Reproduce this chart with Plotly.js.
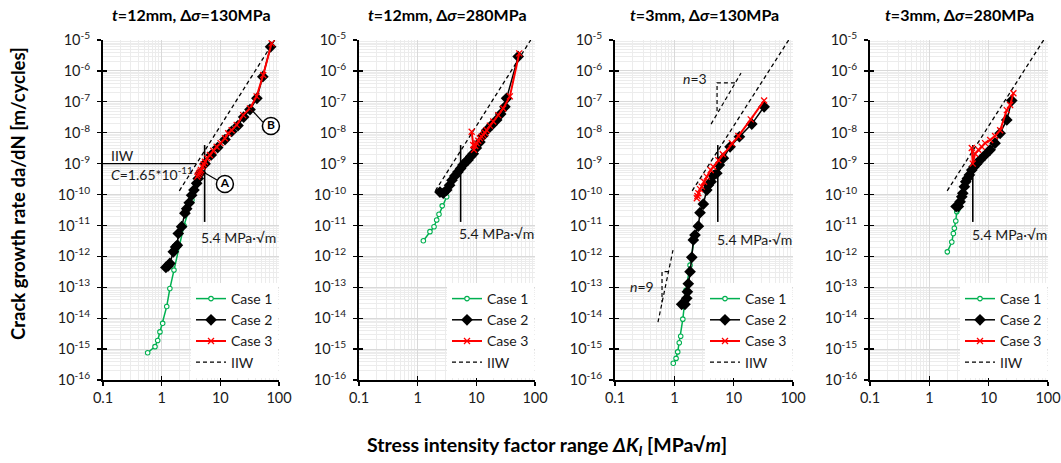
<!DOCTYPE html>
<html><head><meta charset="utf-8">
<script src="https://cdn.plot.ly/plotly-3.0.1.min.js"></script>
<style>html,body{margin:0;padding:0;background:#fff}#chart{width:1061px;height:463px}</style>
</head><body><div id="chart"></div>
<script>
// ---------------- DATA ----------------
const panelTitles = [
  '<i>t</i>=12mm, Δ<i>σ</i>=130MPa',
  '<i>t</i>=12mm, Δ<i>σ</i>=280MPa',
  '<i>t</i>=3mm, Δ<i>σ</i>=130MPa',
  '<i>t</i>=3mm, Δ<i>σ</i>=280MPa'
];
const seriesNames = ['Case 1', 'Case 2', 'Case 3', 'IIW'];
const xTickVals = [0.1, 1, 10, 100];
const xTickText = ['0.1', '1', '10', '100'];
const yTickExp = [-16, -15, -14, -13, -12, -11, -10, -9, -8, -7, -6, -5];

// Panel 1: t=12mm, 130MPa
const p1_case1_K    = [0.577, 0.77, 0.855, 0.935, 1.04, 1.22, 1.38, 1.62, 1.97, 2.4, 3.28];
const p1_case1_rate = [7.6e-16, 1.2e-15, 1.9e-15, 3.6e-15, 6.8e-15, 2.4e-14, 9.1e-14, 3.6e-13, 2.3e-12, 1.0e-11, 6.6e-11];
const p1_case2_K    = [1.18, 1.29, 1.38, 1.58, 1.73, 1.85, 1.92, 2.19, 2.49, 2.67, 2.95, 3.24, 3.55, 3.95, 4.2, 4.6, 5.5, 7.0, 9.0, 12.0, 15.6, 20, 25, 32, 42, 53, 72];
const p1_case2_rate = [4.4e-13, 4.9e-13, 5.9e-13, 1.4e-12, 2.0e-12, 2.3e-12, 5.5e-12, 9.1e-12, 2.5e-11, 3.5e-11, 5.4e-11, 9.5e-11, 1.4e-10, 2.3e-10, 3.3e-10, 5e-10, 1e-9, 1.9e-9, 3.3e-9, 6e-9, 1.1e-8, 1.7e-8, 3.2e-8, 5.6e-8, 1.3e-7, 6.5e-7, 6e-6];
const p1_case3_K    = [4.04, 4.2, 4.37, 4.52, 4.67, 4.99, 5.2, 5.47, 5.98, 6.65, 7.57, 8.65, 10.1, 11.97, 13.6, 15.6, 19.0, 24.5, 31.9, 41.5, 53.8, 74.8];
const p1_case3_rate = [3.8e-10, 4.3e-10, 4.9e-10, 5.5e-10, 6.2e-10, 7.9e-10, 9.5e-10, 1.15e-9, 1.5e-9, 1.9e-9, 2.6e-9, 3.5e-9, 4.6e-9, 6.6e-9, 9.6e-9, 1.2e-8, 1.8e-8, 3.7e-8, 6.1e-8, 1.5e-7, 7.4e-7, 7.8e-6];

// Panel 2: t=12mm, 280MPa
const p2_case1_K    = [1.25, 1.62, 1.90, 2.11, 2.31, 2.62, 3.12];
const p2_case1_rate = [3.2e-12, 6.3e-12, 9.1e-12, 1.5e-11, 2.3e-11, 4.3e-11, 8.5e-11];
const p2_case2_K    = [2.40, 2.73, 3.12, 3.5, 3.84, 4.3, 4.86, 5.4, 5.91, 6.5, 7.2, 8.0, 8.85, 10.0, 11.5, 13.0, 15.0, 18.5, 22.2, 26.0, 30.7, 32.8, 51.7];
const p2_case2_rate = [1.2e-10, 1.1e-10, 1.4e-10, 2.0e-10, 2.9e-10, 4.0e-10, 5.4e-10, 7.0e-10, 9e-10, 1.1e-9, 1.3e-9, 1.7e-9, 2.1e-9, 3.2e-9, 5e-9, 8e-9, 1.2e-8, 1.8e-8, 2.6e-8, 4e-8, 6.9e-8, 1.3e-7, 2.9e-6];
const p2_case3_K    = [8.32, 8.85, 9.1, 9.6, 10.1, 10.8, 11.5, 12.3, 13.1, 14.0, 15.0, 17.0, 19.4, 23.6, 28.7, 37.3, 53.8];
const p2_case3_rate = [1.07e-8, 4e-9, 2.8e-9, 3.7e-9, 4.6e-9, 5.5e-9, 6.6e-9, 7.5e-9, 8.5e-9, 1.0e-8, 1.2e-8, 1.7e-8, 2.3e-8, 3.7e-8, 6.1e-8, 1.5e-7, 3.7e-6];

// Panel 3: t=3mm, 130MPa
const p3_case1_K    = [0.96, 1.07, 1.14, 1.21, 1.28, 1.39, 1.57, 1.84, 2.15];
const p3_case1_rate = [3.5e-16, 5e-16, 8.1e-16, 1.6e-15, 2.6e-15, 9.3e-15, 8e-14, 5.2e-13, 3.4e-12];
const p3_case2_K    = [1.51, 1.33, 1.62, 1.66, 1.72, 1.84, 1.97, 2.09, 2.23, 2.54, 2.71, 3.08, 3.52, 3.74, 4.16, 4.55, 5.19, 5.74, 6.7, 8.7, 12.5, 20.2, 32.6];
const p3_case2_rate = [2.8e-14, 2.8e-14, 4.4e-14, 7.1e-14, 1.3e-13, 3.2e-13, 9.3e-13, 3.4e-12, 4.9e-12, 9.5e-12, 2.6e-11, 4.9e-11, 1.4e-10, 2e-10, 2.6e-10, 4.1e-10, 4.9e-10, 9e-10, 1.5e-9, 3.5e-9, 7.4e-9, 1.9e-8, 6.9e-8];
const p3_case3_K    = [2.39, 2.45, 2.54, 2.71, 2.90, 3.17, 3.52, 4.11, 4.55, 5.52, 6.55, 9.29, 12.0, 19.4, 32.6];
const p3_case3_rate = [7.6e-11, 9e-11, 1.1e-10, 1.5e-10, 1.8e-10, 2.6e-10, 3.8e-10, 6.2e-10, 7.9e-10, 1.3e-9, 2e-9, 4.6e-9, 7.8e-9, 2.7e-8, 1.1e-7];

// Panel 4: t=3mm, 280MPa
const p4_case1_K    = [2.01, 2.39, 2.54, 2.64, 2.79, 2.90, 3.01];
const p4_case1_rate = [1.4e-12, 2.9e-12, 5.5e-12, 8.1e-12, 1.4e-11, 2.8e-11, 3.2e-11];
const p4_case2_K    = [2.82, 3.08, 3.30, 3.52, 3.66, 3.89, 4.11, 4.37, 4.73, 5.19, 5.67, 6.30, 7.16, 8.7, 10.6, 12.8, 15.6, 20.2, 24.5];
const p4_case2_rate = [4.1e-11, 4.1e-11, 5.9e-11, 8.5e-11, 1.1e-10, 1.8e-10, 2.6e-10, 3.3e-10, 4.3e-10, 6.2e-10, 7.9e-10, 1e-9, 1.3e-9, 1.9e-9, 2.8e-9, 4.6e-9, 9.6e-9, 2.6e-8, 1.1e-7];
const p4_case3_K    = [5.19, 5.39, 5.9, 6.7, 7.65, 8.7, 10.6, 12.8, 15.6, 20.2, 23.0, 26.1];
const p4_case3_rate = [3.2e-9, 1e-9, 2.1e-9, 2.8e-9, 3.5e-9, 4.6e-9, 5.8e-9, 7.8e-9, 1.2e-8, 5.4e-8, 7.9e-8, 1.9e-7];

// IIW design line (C = 1.65e-11, m = 3), read end points
const iiw_K    = [2.0, 84.6];
const iiw_rate = [1.32e-10, 1e-5];
// 5.4 MPa·√m marker line
const thr_K    = [5.4, 5.4];
const thr_rate = [4e-9, 1.3e-11];
// Panel 1 notes
const iiwNote_K = [0.1, 3.9], iiwNote_rate = [1e-9, 1e-9];
const leadA_K = [8.75, 5.47], leadA_rate = [2.95e-10, 5e-10];
const leadB_K = [53.2, 31.9], leadB_rate = [2.2e-8, 6.3e-8];
const circ_K = [11.97, 72.8], circ_rate = [2.2e-10, 1.66e-8], circ_text = ['A', 'B'];
// Panel 3 slope triangles
const n3_K = [4.16, 13.3], n3_rate = [1.9e-8, 8.5e-7];
const n3tri_K = [10.5, 5.25, 5.25], n3tri_rate = [4.1e-7, 4.1e-7, 4.3e-8];
const n9_K = [0.53, 0.95], n9_rate = [7.4e-15, 1.6e-12];
const n9tri_K = [0.80, 0.62, 0.62], n9tri_rate = [3.2e-13, 3.2e-13, 3.2e-14];

// ---------------- BUILD ----------------
const W = 1061, H = 463;
const xPix = [[103, 279], [359, 535], [615, 793], [870, 1048]];
const yTopPix = 40, yBotPix = 380;
const FONT = 'Lato, "Open Sans", sans-serif';
const TXT = '#1a1a1a';
const GREEN = '#00b050', RED = '#ff0000';
const DASH = '4px,3px';

const panels = [
  [p1_case1_K, p1_case1_rate, p1_case2_K, p1_case2_rate, p1_case3_K, p1_case3_rate],
  [p2_case1_K, p2_case1_rate, p2_case2_K, p2_case2_rate, p2_case3_K, p2_case3_rate],
  [p3_case1_K, p3_case1_rate, p3_case2_K, p3_case2_rate, p3_case3_K, p3_case3_rate],
  [p4_case1_K, p4_case1_rate, p4_case2_K, p4_case2_rate, p4_case3_K, p4_case3_rate]
];

const xMinor = [], yMinor = [];
[-1, 0, 1].forEach(e => { for (let m = 2; m <= 9; m++) xMinor.push(m * Math.pow(10, e)); });
for (let e = -16; e <= -6; e++) for (let m = 2; m <= 9; m++) yMinor.push(m * Math.pow(10, e));
const yTickVals = yTickExp.map(e => Math.pow(10, e));
const yTickText = yTickExp.map(e => '10<sup>' + e + '</sup>');

const id = (p, i) => p + (i === 0 ? '' : (i + 1));
const traces = [];
const layout = {
  width: W, height: H, margin: {l: 0, r: 0, t: 0, b: 0},
  paper_bgcolor: '#fff', plot_bgcolor: '#fff',
  font: {family: FONT, color: TXT, size: 14},
  annotations: [], shapes: []
};

function lineTrace(i, x, y, extra) {
  return Object.assign({x: x, y: y, xaxis: id('x', i), yaxis: id('y', i), mode: 'lines',
    line: {color: '#000', width: 1.5}, showlegend: false, hoverinfo: 'skip'}, extra || {});
}

for (let i = 0; i < 4; i++) {
  const xa = id('x', i), ya = id('y', i);
  const leg = i === 0 ? 'legend' : 'legend' + (i + 1);
  const d = panels[i];
  const dom = [xPix[i][0] / W, xPix[i][1] / W];
  const ydom = [1 - yBotPix / H, 1 - yTopPix / H];

  layout[id('xaxis', i)] = {
    domain: dom, anchor: ya, type: 'log', range: [-1, 2], tickmode: 'array',
    tickvals: xTickVals, ticktext: xTickText, ticks: 'outside', ticklen: 4, tickwidth: 1.3,
    tickcolor: '#000', showline: true, linecolor: '#000', linewidth: 2,
    showgrid: true, gridcolor: '#d9d9d9', gridwidth: 1, zeroline: false,
    minor: {tickmode: 'array', tickvals: xMinor, showgrid: true, gridcolor: '#ececec', gridwidth: 1, ticks: ''},
    tickfont: {family: FONT, size: 14.5, color: TXT}, fixedrange: true
  };
  layout[id('yaxis', i)] = {
    domain: ydom, anchor: xa, type: 'log', range: [-16, -5], tickmode: 'array',
    tickvals: yTickVals, ticktext: yTickText, ticks: 'outside', ticklen: 4, tickwidth: 1.3,
    tickcolor: '#000', showline: true, linecolor: '#000', linewidth: 2,
    showgrid: true, gridcolor: '#d9d9d9', gridwidth: 1, zeroline: false,
    minor: {tickmode: 'array', tickvals: yMinor, showgrid: true, gridcolor: '#ececec', gridwidth: 1, ticks: ''},
    tickfont: {family: FONT, size: 14.5, color: TXT}, ticklabelstandoff: 4, fixedrange: true
  };
  // overlay axes for inward tick halves
  layout[id('xaxis', i + 4)] = {
    overlaying: xa, anchor: ya, type: 'log', range: [-1, 2], tickmode: 'array', tickvals: xTickVals,
    ticks: 'inside', ticklen: 4, tickwidth: 1.3, tickcolor: '#000', showticklabels: false,
    showgrid: false, showline: false, zeroline: false, side: 'bottom', fixedrange: true
  };
  layout[id('yaxis', i + 4)] = {
    overlaying: ya, anchor: xa, type: 'log', range: [-16, -5], tickmode: 'array', tickvals: yTickVals,
    ticks: 'inside', ticklen: 4, tickwidth: 1.3, tickcolor: '#000', showticklabels: false,
    showgrid: false, showline: false, zeroline: false, side: 'left', fixedrange: true
  };
  traces.push({x: [], y: [], xaxis: id('x', i + 4), yaxis: ya, showlegend: false, hoverinfo: 'skip', mode: 'lines'});
  traces.push({x: [], y: [], xaxis: xa, yaxis: id('y', i + 4), showlegend: false, hoverinfo: 'skip', mode: 'lines'});

  layout[leg] = {
    x: (xPix[i][1] - 1) / W, xanchor: 'right', y: 1 - (yBotPix - 2) / H, yanchor: 'bottom',
    bgcolor: '#fff', borderwidth: 0, font: {family: FONT, size: 14, color: TXT},
    tracegroupgap: 0, itemwidth: 30
  };

  // IIW line
  traces.push(lineTrace(i, iiw_K, iiw_rate, {name: seriesNames[3], showlegend: true, legend: leg,
    legendrank: 4, line: {color: '#000', width: 1.3, dash: DASH}}));
  // threshold line
  traces.push(lineTrace(i, thr_K, thr_rate, {line: {color: '#000', width: 1.6}}));

  if (i === 0) {
    traces.push(lineTrace(i, iiwNote_K, iiwNote_rate, {line: {color: '#000', width: 1.2}}));
  }
  if (i === 2) {
    traces.push(lineTrace(i, n3_K, n3_rate, {line: {color: '#000', width: 1.2, dash: DASH}}));
    traces.push(lineTrace(i, n3tri_K, n3tri_rate, {line: {color: '#000', width: 1.2, dash: DASH}}));
    traces.push(lineTrace(i, n9_K, n9_rate, {line: {color: '#000', width: 1.2, dash: DASH}}));
    traces.push(lineTrace(i, n9tri_K, n9tri_rate, {line: {color: '#000', width: 1.2, dash: DASH}}));
  }

  traces.push({x: d[0], y: d[1], xaxis: xa, yaxis: ya, mode: 'lines+markers', name: seriesNames[0],
    legend: leg, legendrank: 1, line: {color: GREEN, width: 1.5},
    marker: {symbol: 'circle', size: 4.5, color: '#fff', line: {color: GREEN, width: 1.1}}, hoverinfo: 'skip'});
  traces.push({x: d[2], y: d[3], xaxis: xa, yaxis: ya, mode: 'lines+markers', name: seriesNames[1],
    legend: leg, legendrank: 2, line: {color: '#000', width: 1.5},
    marker: {symbol: 'diamond', size: 9, color: '#000'}, hoverinfo: 'skip'});
  traces.push({x: d[4], y: d[5], xaxis: xa, yaxis: ya, mode: 'lines+markers', name: seriesNames[2],
    legend: leg, legendrank: 3, line: {color: RED, width: 2},
    marker: {symbol: 'x-thin', size: 6, color: RED, line: {color: RED, width: 1.3}}, hoverinfo: 'skip'});

  if (i === 0) {
    traces.push(lineTrace(i, leadA_K, leadA_rate, {line: {color: '#000', width: 1.2}}));
    traces.push(lineTrace(i, leadB_K, leadB_rate, {line: {color: '#000', width: 1.2}}));
    traces.push({x: circ_K, y: circ_rate, xaxis: xa, yaxis: ya, mode: 'markers+text', text: circ_text,
      textposition: 'middle center', textfont: {family: FONT, size: 12, color: '#000', weight: 700},
      marker: {symbol: 'circle', size: 17, color: '#fff', line: {color: '#000', width: 1.5}},
      showlegend: false, hoverinfo: 'skip', cliponaxis: false});
  }

  // panel title
  layout.annotations.push({xref: 'paper', yref: 'paper', x: (xPix[i][0] + xPix[i][1]) / 2 / W, y: 1 - 15 / H,
    text: panelTitles[i], showarrow: false, xanchor: 'center', yanchor: 'middle',
    font: {family: FONT, size: 16, color: '#000', weight: 700}});
  // 5.4 label
  const lblK = [4.4, 4.6, 4.8, 4.8][i];
  const lblY = [-11.38, -11.25, -11.44, -11.3][i];
  layout.annotations.push({xref: xa, yref: ya, x: Math.log10(lblK), y: lblY, text: '5.4 MPa·√m',
    showarrow: false, xanchor: 'left', yanchor: 'middle', font: {family: FONT, size: 14, color: TXT}});
}

// Panel 1 notes
layout.annotations.push({xref: 'x', yref: 'y', x: Math.log10(0.125), y: -8.75, text: 'IIW', showarrow: false,
  xanchor: 'left', yanchor: 'middle', font: {family: FONT, size: 14, color: TXT}});
layout.annotations.push({xref: 'x', yref: 'y', x: Math.log10(0.125), y: -9.32, text: '<i>C</i>=1.65*10<sup>-11</sup>',
  showarrow: false, xanchor: 'left', yanchor: 'middle', font: {family: FONT, size: 14, color: TXT}});
// Panel 3 notes
layout.annotations.push({xref: 'x3', yref: 'y3', x: 0.349, y: -6.23, text: '<i>n</i>=3', showarrow: false,
  xanchor: 'center', yanchor: 'middle', font: {family: FONT, size: 14, color: TXT}});
layout.annotations.push({xref: 'x3', yref: 'y3', x: -0.545, y: -12.96, text: '<i>n</i>=9', showarrow: false,
  xanchor: 'center', yanchor: 'middle', font: {family: FONT, size: 14, color: TXT}});

// axis titles
layout.annotations.push({xref: 'paper', yref: 'paper', x: 18 / W, y: 1 - 194 / H, textangle: -90,
  text: 'Crack growth rate da/dN [m/cycles]', showarrow: false, xanchor: 'center', yanchor: 'middle',
  font: {family: FONT, size: 18.5, color: '#000', weight: 700}});
layout.annotations.push({xref: 'paper', yref: 'paper', x: 547 / W, y: 1 - 446 / H,
  text: 'Stress intensity factor range <i>ΔK<sub>I</sub></i> [MPa√<i>m</i>]', showarrow: false,
  xanchor: 'center', yanchor: 'middle', font: {family: FONT, size: 19.5, color: '#000', weight: 700}});

Plotly.newPlot('chart', traces, layout, {staticPlot: true, displayModeBar: false});
</script></body></html>
